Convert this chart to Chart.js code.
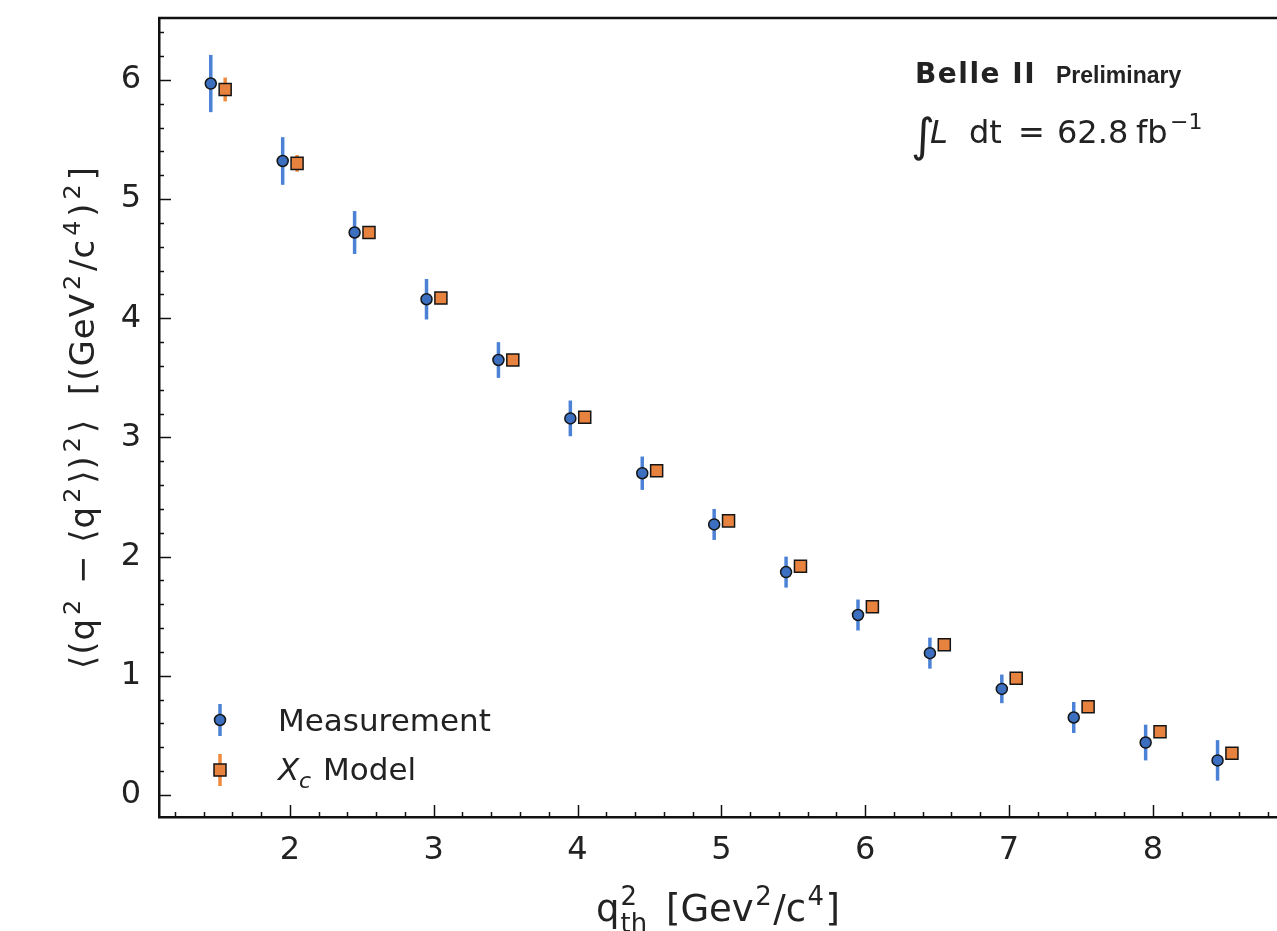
<!DOCTYPE html>
<html>
<head>
<meta charset="utf-8">
<script src="https://cdn.jsdelivr.net/npm/chart.js@4.4.0/dist/chart.umd.min.js"></script>
<style>
html, body { margin: 0; padding: 0; background: #fff; overflow: hidden; }
#wrap { position: absolute; left: 0; top: 0; width: 1300px; height: 931px; }
</style>
</head>
<body>
<div id="wrap"><canvas id="chart" width="1300" height="931"></canvas></div>
<script>
// measurement points (shifted -0.05 from bin centre)
const measX = [1.45, 1.95, 2.45, 2.95, 3.45, 3.95, 4.45, 4.95, 5.45, 5.95, 6.45, 6.95, 7.45, 7.95, 8.45];
const measY = [5.97, 5.32, 4.72, 4.16, 3.65, 3.16, 2.70, 2.27, 1.87, 1.51, 1.19, 0.89, 0.65, 0.44, 0.29];
const measErr = [0.24, 0.20, 0.18, 0.17, 0.15, 0.15, 0.14, 0.13, 0.13, 0.13, 0.13, 0.12, 0.13, 0.15, 0.17];

// X_c model points (shifted +0.05)
const modelX = [1.55, 2.05, 2.55, 3.05, 3.55, 4.05, 4.55, 5.05, 5.55, 6.05, 6.55, 7.05, 7.55, 8.05, 8.55];
const modelY = [5.92, 5.30, 4.72, 4.17, 3.65, 3.17, 2.72, 2.30, 1.92, 1.58, 1.26, 0.98, 0.74, 0.53, 0.35];
const modelErr = [0.10, 0.07, 0.05, 0.05, 0.04, 0.04, 0.04, 0.04, 0.04, 0.04, 0.04, 0.04, 0.04, 0.04, 0.04];

const xTicks = [2, 3, 4, 5, 6, 7, 8];
const yTicks = [0, 1, 2, 3, 4, 5, 6];

const FONT = '"DejaVu Sans", sans-serif';
const TXT = '#222';
const BLUE = '#3c6fc0';
const BLUE_BAR = '#4c82d6';
const ORANGE = '#e8823f';
const ORANGE_BAR = '#f08a3c';

function partFont(p, size) {
    let s = (p.sup || p.sub) ? size * 0.7 : size;
    return (p.italic ? 'italic ' : '') + (p.bold ? 'bold ' : '') + s + 'px ' + FONT;
}
function richWidth(ctx, parts, size, gap) {
    let w = 0;
    parts.forEach((p, i) => {
        ctx.font = partFont(p, size);
        w += ctx.measureText(p.t).width + (i ? gap : 0);
    });
    return w;
}
function drawRich(ctx, parts, x, y, size, gap) {
    let cx = x;
    parts.forEach(p => {
        ctx.font = partFont(p, size);
        let dy = p.sup ? -size * 0.42 : (p.sub ? size * 0.25 : 0);
        ctx.fillText(p.t, cx, y + dy);
        cx += ctx.measureText(p.t).width + gap;
    });
}

// vertical error bars, drawn through the scales
const errorBars = {
    id: 'errorBars',
    beforeDatasetsDraw(chart) {
        const ctx = chart.ctx;
        const xs = chart.scales.x, ys = chart.scales.y;
        const sets = [[measX, measY, measErr, BLUE_BAR], [modelX, modelY, modelErr, ORANGE_BAR]];
        ctx.save();
        ctx.lineWidth = 3.5;
        for (let [X, Y, E, col] of sets) {
            ctx.strokeStyle = col;
            for (let i = 0; i < X.length; i++) {
                let px = xs.getPixelForValue(X[i]);
                ctx.beginPath();
                ctx.moveTo(px, ys.getPixelForValue(Y[i] - E[i]));
                ctx.lineTo(px, ys.getPixelForValue(Y[i] + E[i]));
                ctx.stroke();
            }
        }
        ctx.restore();
    }
};

// inward ticks, top spine, titles, legend, labels
const decorations = {
    id: 'decorations',
    afterDraw(chart) {
        const ctx = chart.ctx;
        const a = chart.chartArea;
        const xs = chart.scales.x, ys = chart.scales.y;
        ctx.save();
        ctx.strokeStyle = '#111';
        ctx.lineWidth = 1.5;
        // x ticks
        for (let v = Math.ceil(xs.min * 5) / 5; v <= xs.max + 1e-9; v += 0.2) {
            let major = Math.abs(v - Math.round(v)) < 1e-6;
            let px = Math.round(xs.getPixelForValue(v)) + 0.5;
            ctx.beginPath();
            ctx.moveTo(px, a.bottom);
            ctx.lineTo(px, a.bottom - (major ? 12 : 5));
            ctx.stroke();
        }
        // y ticks
        for (let v = Math.ceil(ys.min * 5) / 5; v <= ys.max + 1e-9; v += 0.2) {
            let major = Math.abs(v - Math.round(v)) < 1e-6;
            let py = Math.round(ys.getPixelForValue(v)) + 0.5;
            ctx.beginPath();
            ctx.moveTo(a.left, py);
            ctx.lineTo(a.left + (major ? 12 : 5), py);
            ctx.stroke();
        }
        // top spine
        ctx.lineWidth = 2.5;
        ctx.beginPath();
        ctx.moveTo(a.left - 1, a.top);
        ctx.lineTo(a.right, a.top);
        ctx.stroke();

        ctx.fillStyle = TXT;
        ctx.textBaseline = 'alphabetic';
        ctx.textAlign = 'left';

        // x title: q with stacked 2 / th, then [Gev2/c4]
        const xsz = 37;
        const xRest = [{t: '[Gev'}, {t: '2', sup: true}, {t: '/c'}, {t: '4', sup: true}, {t: ']'}];
        let xl = 596, base = 921;
        ctx.font = partFont({}, xsz);
        let wq = ctx.measureText('q').width;
        ctx.fillText('q', xl, base);
        ctx.font = partFont({sup: true}, xsz);
        ctx.fillText('2', xl + wq + 1, base - xsz * 0.42);
        ctx.fillText('th', xl + wq + 1, base + xsz * 0.3);
        drawRich(ctx, xRest, 666, base, xsz, 1.5);

        // y title (rotated)
        const yTitle = [{t: '\u27E8(q'}, {t: '2', sup: true}, {t: ' \u2212 \u27E8q'}, {t: '2', sup: true}, {t: '\u27E9)'}, {t: '2', sup: true}, {t: '\u27E9  [(GeV'}, {t: '2', sup: true}, {t: '/c'}, {t: '4', sup: true}, {t: ')'}, {t: '2', sup: true}, {t: ']'}];
        const ysz = 34;
        const gap = 3;
        ctx.save();
        if ('letterSpacing' in ctx) ctx.letterSpacing = '1px';
        let ytw = richWidth(ctx, yTitle, ysz, gap);
        ctx.translate(94, (a.top + a.bottom) / 2);
        ctx.rotate(-Math.PI / 2);
        drawRich(ctx, yTitle, -ytw / 2, 0, ysz, gap);
        ctx.restore();

        // Belle II label
        ctx.font = 'bold 28px ' + FONT;
        if ('letterSpacing' in ctx) ctx.letterSpacing = '1.5px';
        ctx.fillText('Belle II', 915, 83);
        if ('letterSpacing' in ctx) ctx.letterSpacing = '0px';
        ctx.font = 'bold 23px "Liberation Sans", Arial, sans-serif';
        ctx.fillText('Preliminary', 1056, 83);

        // luminosity
        ctx.font = '46px ' + FONT;
        ctx.fillText('\u222B', 911, 151);
        ctx.font = 'italic 32px ' + FONT;
        ctx.fillText('L', 930, 143);
        ctx.font = '32px ' + FONT;
        ctx.fillText('dt', 969, 143);
        ctx.fillText('=', 1018, 143);
        ctx.fillText('62.8', 1057, 143);
        ctx.fillText('fb', 1136, 143);
        ctx.font = '22px ' + FONT;
        ctx.fillText('\u22121', 1170, 129);

        // legend
        const legendRows = [
            {y: 720, bar: BLUE_BAR, fill: BLUE, shape: 'circle'},
            {y: 770, bar: ORANGE_BAR, fill: ORANGE, shape: 'rect'}
        ];
        for (let r of legendRows) {
            ctx.strokeStyle = r.bar;
            ctx.lineWidth = 3.5;
            ctx.beginPath();
            ctx.moveTo(220, r.y - 16);
            ctx.lineTo(220, r.y + 16);
            ctx.stroke();
            ctx.fillStyle = r.fill;
            ctx.strokeStyle = '#151515';
            ctx.lineWidth = 1.5;
            ctx.beginPath();
            if (r.shape === 'circle') ctx.arc(220, r.y, 5.5, 0, Math.PI * 2);
            else ctx.rect(214, r.y - 6, 12, 12);
            ctx.fill();
            ctx.stroke();
        }
        ctx.fillStyle = TXT;
        ctx.font = '31px ' + FONT;
        ctx.fillText('Measurement', 278, 731);
        ctx.font = 'italic 31px ' + FONT;
        ctx.fillText('X', 278, 780);
        ctx.font = 'italic 22px ' + FONT;
        ctx.fillText('c', 299, 788);
        ctx.font = '31px ' + FONT;
        ctx.fillText('Model', 323, 780);
        ctx.restore();
    }
};

new Chart(document.getElementById('chart'), {
    type: 'scatter',
    data: {
        datasets: [
            {
                label: 'Measurement',
                data: measX.map((x, i) => ({x: x, y: measY[i]})),
                pointStyle: 'circle',
                pointRadius: 5.5,
                backgroundColor: BLUE,
                borderColor: '#151515',
                borderWidth: 1.5
            },
            {
                label: 'X_c Model',
                data: modelX.map((x, i) => ({x: x, y: modelY[i]})),
                pointStyle: 'rect',
                pointRadius: 8.5,
                backgroundColor: ORANGE,
                borderColor: '#151515',
                borderWidth: 1.5
            }
        ]
    },
    options: {
        responsive: false,
        animation: false,
        layout: { padding: { top: 18, right: 17, left: 0, bottom: 0 } },
        plugins: { legend: { display: false }, tooltip: { enabled: false } },
        scales: {
            x: {
                type: 'linear',
                min: 1.09,
                max: 8.905,
                afterBuildTicks: s => { s.ticks = xTicks.map(v => ({value: v})); },
                afterFit: s => { s.height = 114; s.paddingLeft = 0; s.paddingRight = 0; },
                grid: { display: false, drawTicks: false },
                border: { display: true, color: '#111', width: 2.5 },
                ticks: { color: TXT, font: { family: FONT, size: 32 }, padding: 14, callback: v => v }
            },
            y: {
                type: 'linear',
                min: -0.185,
                max: 6.52,
                afterBuildTicks: s => { s.ticks = yTicks.map(v => ({value: v})); },
                afterFit: s => { s.width = 159; s.paddingTop = 0; s.paddingBottom = 0; },
                grid: { display: false, drawTicks: false },
                border: { display: true, color: '#111', width: 2.5 },
                ticks: { color: TXT, font: { family: FONT, size: 32 }, padding: 18, callback: v => v }
            }
        }
    },
    plugins: [errorBars, decorations]
});
</script>
</body>
</html>
